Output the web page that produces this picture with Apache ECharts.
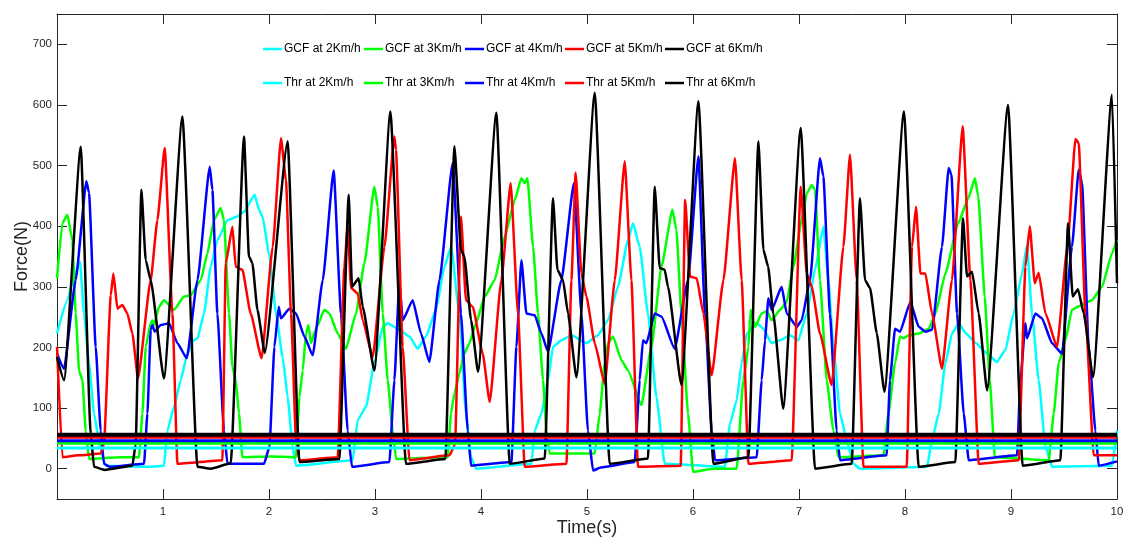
<!DOCTYPE html>
<html>
<head>
<meta charset="utf-8">
<script src="https://cdn.jsdelivr.net/npm/echarts@6/dist/echarts.min.js"></script>
<style>
html,body{margin:0;padding:0;background:#fff;}
#chart{width:1124px;height:541px;}
</style>
</head>
<body>
<div id="chart"></div>
<script>
// ---- data (time in s, force in N) ----
var gcfNames = ['GCF at 2Km/h','GCF at 3Km/h','GCF at 4Km/h','GCF at 5Km/h','GCF at 6Km/h'];
var thrNames = ['Thr at 2Km/h','Thr at 3Km/h','Thr at 4Km/h','Thr at 5Km/h','Thr at 6Km/h'];
var thrValues = [34, 42, 46, 52, 56];
var xTicks = [1,2,3,4,5,6,7,8,9,10];
var yTicks = [0,100,200,300,400,500,600,700];

var gcf2 = [[0,223],[0.098,278],[0.16,317],[0.217,341],[0.255,256],[0.302,174],[0.349,91],[0.412,30],[0.459,5],[0.884,3],[1.009,5],[1.042,63],[1.104,102],[1.167,146],[1.23,190],[1.292,212],[1.325,215],[1.387,256],[1.45,333],[1.513,377],[1.608,410],[1.702,416],[1.764,424],[1.865,452],[1.906,427],[1.94,415],[2.004,350],[2.066,256],[2.129,184],[2.176,118],[2.223,36],[2.255,5],[2.79,14],[2.836,80],[2.915,102],[2.994,174],[3.073,234],[3.12,240],[3.23,229],[3.325,218],[3.403,198],[3.481,218],[3.575,262],[3.655,333],[3.717,366],[3.796,256],[3.858,91],[3.906,19],[3.953,0],[4.475,8],[4.507,63],[4.57,91],[4.632,146],[4.679,201],[4.758,212],[4.853,220],[4.994,207],[5.104,220],[5.198,245],[5.292,300],[5.387,377],[5.434,405],[5.497,366],[5.575,256],[5.655,118],[5.733,8],[6.3,3],[6.349,74],[6.412,113],[6.459,174],[6.507,223],[6.601,240],[6.664,231],[6.742,207],[6.821,212],[6.915,220],[6.994,212],[7.073,256],[7.151,328],[7.23,399],[7.277,311],[7.325,201],[7.387,91],[7.45,47],[7.513,8],[7.575,0],[8.208,3],[8.255,47],[8.318,91],[8.381,174],[8.443,223],[8.507,240],[8.575,223],[8.67,207],[8.774,190],[8.868,176],[8.947,196],[9.025,256],[9.104,322],[9.151,369],[9.198,256],[9.261,146],[9.325,36],[9.387,3],[9.953,5],[10,63]];

var gcf3 = [[0,314],[0.051,405],[0.098,419],[0.145,377],[0.176,256],[0.208,162],[0.24,146],[0.271,63],[0.302,16],[0.601,19],[0.774,19],[0.806,91],[0.837,201],[0.884,240],[0.9,245],[0.915,237],[0.962,267],[1.009,278],[1.104,262],[1.198,284],[1.261,286],[1.356,311],[1.419,355],[1.481,410],[1.544,430],[1.575,410],[1.623,256],[1.655,168],[1.686,146],[1.717,91],[1.749,19],[2.016,20],[2.255,19],[2.287,118],[2.318,162],[2.349,223],[2.372,237],[2.396,207],[2.443,231],[2.523,262],[2.57,256],[2.648,223],[2.726,198],[2.821,256],[2.9,339],[2.994,465],[3.026,432],[3.073,256],[3.12,146],[3.167,63],[3.198,16],[3.686,19],[3.717,91],[3.749,124],[3.796,157],[3.843,190],[3.891,207],[3.953,240],[4.035,284],[4.129,311],[4.224,383],[4.318,443],[4.381,479],[4.412,471],[4.438,479],[4.491,366],[4.538,256],[4.585,146],[4.617,63],[4.648,25],[5.073,25],[5.12,91],[5.167,174],[5.198,207],[5.245,218],[5.325,179],[5.387,162],[5.513,105],[5.608,201],[5.702,333],[5.806,427],[5.843,394],[5.891,256],[5.953,91],[6.0,-5],[6.192,0],[6.412,0],[6.475,146],[6.523,201],[6.544,262],[6.585,234],[6.648,256],[6.695,260],[6.742,245],[6.821,262],[6.884,275],[6.947,333],[7.025,410],[7.073,454],[7.12,468],[7.151,460],[7.198,311],[7.261,146],[7.325,63],[7.372,19],[7.797,22],[7.844,91],[7.906,174],[7.953,218],[7.985,215],[8.035,220],[8.129,223],[8.224,231],[8.287,256],[8.381,322],[8.502,405],[8.597,446],[8.66,479],[8.691,449],[8.752,284],[8.8,146],[8.847,19],[9.356,14],[9.403,91],[9.45,174],[9.513,212],[9.575,262],[9.639,268],[9.764,278],[9.858,300],[9.953,355],[10,378]];

var gcf4 = [[0,190],[0.066,165],[0.176,311],[0.277,474],[0.302,455],[0.365,201],[0.412,63],[0.443,8],[0.5,3],[0.821,8],[0.853,91],[0.884,229],[0.9,237],[0.922,226],[0.978,237],[1.057,240],[1.136,207],[1.224,182],[1.325,311],[1.441,498],[1.466,460],[1.513,256],[1.575,63],[1.608,8],[1.953,8],[2.004,36],[2.051,201],[2.092,267],[2.113,248],[2.192,264],[2.255,256],[2.334,218],[2.412,187],[2.507,311],[2.61,492],[2.679,256],[2.742,63],[2.783,3],[3.136,11],[3.183,146],[3.23,308],[3.261,245],[3.356,278],[3.434,223],[3.513,176],[3.608,311],[3.733,504],[3.811,256],[3.875,63],[3.906,5],[4.287,11],[4.334,201],[4.381,344],[4.428,256],[4.507,253],[4.57,223],[4.632,193],[4.758,311],[4.877,471],[4.947,256],[5.009,63],[5.057,-3],[5.13,2],[5.45,11],[5.497,146],[5.528,212],[5.56,207],[5.639,256],[5.702,251],[5.827,198],[5.953,311],[6.051,515],[6.113,256],[6.176,63],[6.208,14],[6.601,19],[6.648,146],[6.679,212],[6.711,281],[6.742,262],[6.837,300],[6.884,256],[6.979,234],[7.025,245],[7.104,311],[7.198,512],[7.23,482],[7.292,256],[7.355,63],[7.387,14],[7.827,22],[7.858,146],[7.906,231],[7.953,226],[8.051,275],[8.129,234],[8.192,226],[8.255,229],[8.349,366],[8.412,496],[8.438,485],[8.491,256],[8.554,91],[8.601,14],[9.057,22],[9.089,146],[9.136,240],[9.151,215],[9.23,256],[9.292,248],[9.387,207],[9.481,190],[9.575,366],[9.639,493],[9.67,471],[9.733,201],[9.796,63],[9.827,5],[10,12]];

var gcf5 = [[0,201],[0.051,19],[0.2,22],[0.412,25],[0.443,40],[0.507,286],[0.532,322],[0.57,264],[0.617,270],[0.664,256],[0.711,223],[0.764,149],[0.884,311],[0.947,410],[1.016,529],[1.089,256],[1.136,8],[1.56,14],[1.592,339],[1.655,399],[1.686,333],[1.749,328],[1.827,256],[1.93,182],[2.035,366],[2.113,545],[2.16,476],[2.208,256],[2.255,47],[2.287,14],[2.648,19],[2.711,333],[2.742,400],[2.774,298],[2.837,289],[2.884,245],[2.978,184],[3.089,366],[3.183,548],[3.198,526],[3.261,201],[3.325,14],[3.702,22],[3.755,40],[3.811,416],[3.858,278],[3.922,267],[4.016,190],[4.082,110],[4.192,311],[4.28,471],[4.349,256],[4.412,3],[4.806,8],[4.853,311],[4.893,488],[4.947,322],[4.994,284],[5.073,207],[5.167,140],[5.262,311],[5.356,507],[5.419,311],[5.481,3],[5.884,5],[5.926,443],[5.972,317],[6.035,314],[6.098,256],[6.176,154],[6.287,311],[6.396,512],[6.459,311],[6.523,8],[6.931,14],[7.016,465],[7.073,322],[7.12,300],[7.198,223],[7.308,138],[7.419,366],[7.481,518],[7.544,311],[7.608,3],[8.016,3],[8.066,366],[8.104,432],[8.145,322],[8.192,322],[8.255,256],[8.349,165],[8.443,311],[8.544,565],[8.617,311],[8.695,8],[9.073,14],[9.136,333],[9.177,400],[9.224,306],[9.261,323],[9.325,256],[9.434,201],[9.532,366],[9.608,544],[9.639,537],[9.702,256],[9.78,22],[10,22]];

var gcf6 = [[0,184],[0.066,146],[0.224,531],[0.318,58],[0.349,3],[0.45,-2],[0.711,5],[0.742,40],[0.796,460],[0.837,344],[0.884,311],[1.009,149],[1.183,581],[1.325,3],[1.45,0],[1.639,9],[1.764,548],[1.811,350],[1.843,339],[1.891,262],[1.96,191],[2.176,540],[2.287,11],[2.664,16],[2.752,452],[2.783,300],[2.846,314],[2.884,267],[2.994,162],[3.145,589],[3.292,8],[3.664,16],[3.749,532],[3.811,361],[3.843,350],[3.906,245],[3.972,160],[4.145,587],[4.271,8],[4.601,17],[4.679,446],[4.721,328],[4.774,311],[4.821,256],[4.9,151],[5.073,620],[5.214,8],[5.575,17],[5.639,465],[5.686,331],[5.733,328],[5.764,300],[5.891,138],[6.051,606],[6.192,8],[6.523,19],[6.617,540],[6.664,361],[6.709,333],[6.757,256],[6.851,99],[7.016,562],[7.151,0],[7.497,8],[7.575,446],[7.623,311],[7.67,298],[7.733,224],[7.806,127],[7.99,589],[8.129,3],[8.475,11],[8.547,413],[8.585,317],[8.632,325],[8.695,256],[8.774,129],[8.972,600],[9.11,5],[9.466,14],[9.538,405],[9.582,284],[9.632,296],[9.686,256],[9.774,151],[9.953,617],[10,306]];

var gcfData = [gcf2, gcf3, gcf4, gcf5, gcf6];
var colors = ['#00FFFF','#00FF00','#0000FF','#FF0000','#000000'];

// ---- font helpers ----
var FONT = "'Liberation Sans', Arial, sans-serif";
function hasFont(name) {
  var c = document.createElement('canvas').getContext('2d');
  var t = 'GCF at 2Km/h mmmwwwiiilll';
  c.font = '40px monospace';
  var w1 = c.measureText(t).width;
  c.font = "40px '" + name + "', monospace";
  var w2 = c.measureText(t).width;
  return Math.abs(w1 - w2) > 0.5;
}
var legendFont = hasFont('Liberation Sans Narrow') ? "'Liberation Sans Narrow'" : FONT;
var legendSize = (function () {
  var c = document.createElement('canvas').getContext('2d');
  c.font = '15px ' + legendFont;
  var w = c.measureText('GCF at 2Km/h').width;
  return Math.min(15, Math.round(15 * 77 / w * 10) / 10);
})();

// ---- build options ----
var series = [];
for (var i = 0; i < 5; i++) {
  series.push({
    name: gcfNames[i], type: 'line', data: gcfData[i],
    showSymbol: false, symbol: 'none', smooth: 0.15, smoothMonotone: 'x',
    lineStyle: {color: colors[i], width: 2.5},
    itemStyle: {color: colors[i]},
    emphasis: {disabled: true}, z: 2
  });
}
for (var j = 0; j < 5; j++) {
  series.push({
    name: thrNames[j], type: 'line',
    data: [[0, thrValues[j]], [10, thrValues[j]]],
    showSymbol: false, symbol: 'none',
    lineStyle: {color: colors[j], width: j === 4 ? 4 : 3},
    itemStyle: {color: colors[j]},
    emphasis: {disabled: true}, z: 3
  });
}

var legendX = [263, 364, 465, 565, 665];
var legendRowY = [51, 85];
var legends = [];
for (var k = 0; k < 5; k++) {
  [gcfNames, thrNames].forEach(function (names, r) {
    legends.push({
      data: [names[k]], left: legendX[k], top: legendRowY[r] - 8,
      orient: 'horizontal', padding: 0, itemGap: 0,
      icon: 'rect', itemWidth: 19, itemHeight: 2.5, selectedMode: false,
      textStyle: {fontFamily: legendFont, fontSize: legendSize, color: '#000', padding: [0, 0, 0, -3]}
    });
  });
}

var axisLineStyle = {color: '#262626', width: 1};
var option = {
  animation: false,
  backgroundColor: '#ffffff',
  grid: {left: 57, right: 7, top: 14, bottom: 42, containLabel: false, outerBoundsMode: 'none'},
  legend: legends,
  xAxis: [{
    type: 'value', min: 0, max: 10, interval: 1, position: 'bottom',
    name: 'Time(s)', nameLocation: 'middle', nameGap: 20, nameMoveOverlap: false,
    nameTextStyle: {fontFamily: FONT, fontSize: 18, color: '#262626'},
    axisLine: {show: true, onZero: false, lineStyle: axisLineStyle},
    axisTick: {show: true, inside: true, length: 10, customValues: xTicks, lineStyle: axisLineStyle},
    axisLabel: {show: true, customValues: xTicks, margin: 7, fontFamily: FONT, fontSize: 11.5, color: '#262626'},
    splitLine: {show: false}
  }, {
    type: 'value', min: 0, max: 10, interval: 1, position: 'top',
    axisLine: {show: true, onZero: false, lineStyle: axisLineStyle},
    axisTick: {show: true, inside: true, length: 10, customValues: xTicks, lineStyle: axisLineStyle},
    axisLabel: {show: false}, splitLine: {show: false}
  }],
  yAxis: [{
    type: 'value', min: -50, max: 750, interval: 50, position: 'left',
    name: 'Force(N)', nameLocation: 'middle', nameGap: 26, nameMoveOverlap: false,
    nameTextStyle: {fontFamily: FONT, fontSize: 18, color: '#262626'},
    axisLine: {show: true, onZero: false, lineStyle: axisLineStyle},
    axisTick: {show: true, inside: true, length: 10, customValues: yTicks, lineStyle: axisLineStyle},
    axisLabel: {show: true, customValues: yTicks, margin: 5, fontFamily: FONT, fontSize: 11.5, color: '#262626'},
    splitLine: {show: false}
  }, {
    type: 'value', min: -50, max: 750, interval: 50, position: 'right',
    axisLine: {show: true, onZero: false, lineStyle: axisLineStyle},
    axisTick: {show: true, inside: true, length: 10, customValues: yTicks, lineStyle: axisLineStyle},
    axisLabel: {show: false}, splitLine: {show: false}
  }],
  series: series
};

var chart = echarts.init(document.getElementById('chart'), null, {renderer: 'canvas'});
chart.setOption(option);
</script>
</body>
</html>
